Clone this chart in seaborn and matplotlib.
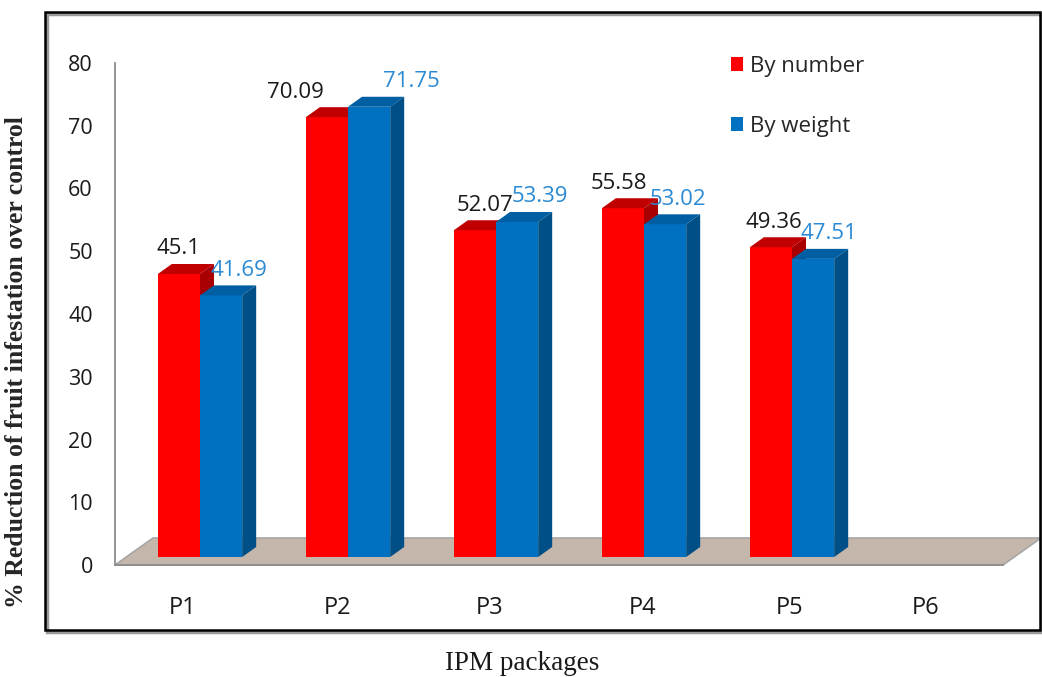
import pandas as pd
import numpy as np
import matplotlib
matplotlib.use('Agg')
import matplotlib.pyplot as plt
import seaborn as sns
from matplotlib.patches import Polygon, Rectangle

packages = ['P1', 'P2', 'P3', 'P4', 'P5', 'P6']
by_number = [45.1, 70.09, 52.07, 55.58, 49.36, np.nan]
by_weight = [41.69, 71.75, 53.39, 53.02, 47.51, np.nan]
series = ['By number', 'By weight']
yticks = [0, 10, 20, 30, 40, 50, 60, 70, 80]

# label nudges (px, relative to bar front centre) - excel moved some labels around
nudge_number = [0, -31, 10, -4, 3]
nudge_weight = [18, 42, 23, 13, 16]
# category labels sit a bit off centre in the original (perspective)
nudge_cat = [-6, 0, 5, 10, 9, -3]

front = {'By number': '#FF0000', 'By weight': '#0070C0'}
top = {'By number': '#C00000', 'By weight': '#005EA2'}
side = {'By number': '#A80000', 'By weight': '#004F86'}
lab_col = {'By number': '#1A1A1A', 'By weight': '#2A8AD4'}

df = pd.DataFrame({'package': packages * 2,
                   'series': ['By number'] * 6 + ['By weight'] * 6,
                   'value': by_number + by_weight}).dropna()

sns.set_style('white')
plt.rcParams['font.family'] = ['Open Sans', 'DejaVu Sans']

W, H = 1042, 677
fig = plt.figure(figsize=(W / 100, H / 100), dpi=100)
# plot area in pixels: x 115..1040, y 63..565
ax = fig.add_axes([115 / W, (H - 565) / H, 925 / W, 502 / H])

sns.barplot(data=df, x='package', y='value', hue='series', order=packages,
            hue_order=series, palette=front, width=0.57, linewidth=0,
            saturation=1, ax=ax)
bars = list(ax.patches)

ax.set_xlim(-0.5, 5.75)
ax.set_ylim(0, 80)
sx = 148.0          # px per x unit
sy = 502 / 80.0     # px per y unit

# 3d offsets
fdx, fdy = 38 / sx, 27 / sy      # floor depth
bdx, bdy = 11 / sx, 8 / sy       # bar front plane
ddx, ddy = 14 / sx, 10 / sy      # bar depth

floor = Polygon([(-0.5, 0), (5.5, 0), (5.5 + fdx, fdy), (-0.5 + fdx, fdy)],
                closed=True, facecolor='#C4B6AA', edgecolor='#A6A6A6', lw=1.2,
                zorder=0.5, clip_on=False)
ax.add_patch(floor)

bars = sorted([b for b in bars if b.get_height() > 0], key=lambda b: b.get_x())
for i, b in enumerate(bars):
    b.set_x(b.get_x() + bdx)
    b.set_y(b.get_y() + bdy)
    z = 2 + i
    b.set_zorder(z)
    col = b.get_facecolor()
    name = 'By number' if abs(col[0] - 1.0) < 0.01 else 'By weight'
    x0, y0 = b.get_x(), b.get_y()
    w, h = b.get_width(), b.get_height()
    ax.add_patch(Polygon([(x0, y0 + h), (x0 + w, y0 + h), (x0 + w + ddx, y0 + h + ddy),
                          (x0 + ddx, y0 + h + ddy)], closed=True, facecolor=top[name],
                         lw=0, zorder=z))
    ax.add_patch(Polygon([(x0 + w, y0), (x0 + w + ddx, y0 + ddy), (x0 + w + ddx, y0 + h + ddy),
                          (x0 + w, y0 + h)], closed=True, facecolor=side[name],
                         lw=0, zorder=z))

# value labels
for k, (name, vals, nud) in enumerate([('By number', by_number, nudge_number),
                                       ('By weight', by_weight, nudge_weight)]):
    for j, v in enumerate(vals):
        if np.isnan(v):
            continue
        xc = j + bdx + (k - 0.5) * 0.285 + nud[j] / sx
        ax.text(xc, v + bdy + 25 / sy, f'{v:g}', ha='center', va='center',
                fontsize=16, color=lab_col[name], zorder=50, clip_on=False)

# axes styling
for s in ['top', 'right']:
    ax.spines[s].set_visible(False)
for s in ['left', 'bottom']:
    ax.spines[s].set_color('#8C8C8C')
    ax.spines[s].set_linewidth(1.3)
ax.spines['bottom'].set_bounds(-0.5, 5.5)
ax.spines['bottom'].set_zorder(0.6)

ax.set_yticks(yticks)
ax.set_yticklabels([str(t) for t in yticks])
ax.tick_params(axis='y', direction='out', length=7, width=1.3, color='#8C8C8C',
               pad=9, labelsize=15.5, labelcolor='#1A1A1A')
ax.set_xticks(np.arange(-0.5, 6, 1.0))
ax.set_xticklabels([])
ax.set_xticks(np.arange(6) + np.array(nudge_cat) / sx, minor=True)
ax.set_xticklabels(packages, minor=True)
ax.tick_params(axis='x', which='major', direction='out', length=7, width=1.3,
               color='#8C8C8C')
ax.tick_params(axis='x', which='minor', length=0, pad=22, labelsize=17,
               labelcolor='#1A1A1A')
ax.set_xlabel('')
ax.set_ylabel('')

h, l = ax.get_legend_handles_labels()
ax.legend(h, l, loc='upper left', bbox_to_anchor=(731 / W, (H - 56) / H),
          bbox_transform=fig.transFigure, frameon=False, fontsize=16,
          handlelength=0.55, handleheight=0.55, handletextpad=0.3,
          labelspacing=1.75, borderpad=0, borderaxespad=0)

fig.text(17 / W, (H - 362) / H, '% Reduction of fruit infestation over control',
         rotation=90, ha='center', va='center', fontsize=18.5, fontweight='bold',
         family='Liberation Serif')
fig.text(522 / W, (H - 664) / H, 'IPM packages', ha='center', va='center',
         fontsize=19.5, family='Liberation Serif', color='#1A1A1A')

# outer frame with a little shadow
fig.patches.append(Rectangle((47 / W, (H - 632) / H), 995 / W, 618 / H,
                             transform=fig.transFigure, fill=False,
                             edgecolor='#9A9A9A', lw=2.5, zorder=0))
fig.patches.append(Rectangle((45 / W, (H - 630) / H), 995 / W, 618 / H,
                             transform=fig.transFigure, fill=False,
                             edgecolor='black', lw=1.8, zorder=1))

fig.savefig('out.png', dpi=100)
